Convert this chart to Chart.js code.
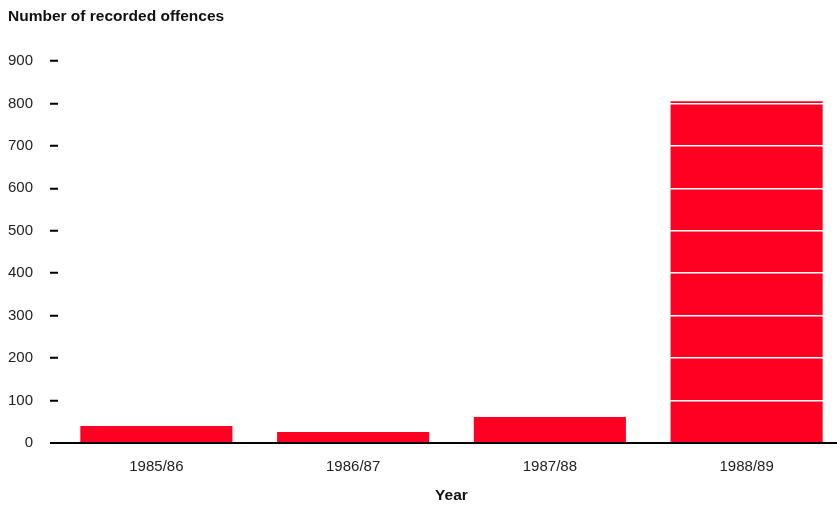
<!DOCTYPE html>
<html>
<head>
<meta charset="utf-8">
<script src="https://cdn.jsdelivr.net/npm/chart.js@4"></script>
<style>
  html, body { margin: 0; padding: 0; background: #fff; overflow: hidden; }
  #wrap { width: 845px; height: 505px; }
</style>
</head>
<body>
<div id="wrap"><canvas id="chart" width="845" height="505"></canvas></div>
<script>
// Recorded offences per financial year
const years = ['1985/86', '1986/87', '1987/88', '1988/89'];
const offences = [40, 26, 61, 805];
const yTicks = [0, 100, 200, 300, 400, 500, 600, 700, 800, 900];

const FONT = "'Liberation Sans', Arial, sans-serif";
Chart.defaults.font.family = FONT;
Chart.defaults.color = '#222';

new Chart(document.getElementById('chart'), {
  type: 'bar',
  data: {
    labels: years,
    datasets: [{
      data: offences,
      backgroundColor: '#ff0022',
      borderWidth: 0,
      categoryPercentage: 1,
      barPercentage: 0.773
    }]
  },
  options: {
    responsive: false,
    animation: false,
    layout: { padding: { left: 8, right: 0, top: 0, bottom: 0 } },
    plugins: {
      legend: { display: false },
      tooltip: { enabled: false },
      title: {
        display: true,
        text: 'Number of recorded offences',
        align: 'start',
        color: '#111',
        font: { size: 15.5, weight: 'bold' },
        padding: { top: 7.8, bottom: 34.6 }
      }
    },
    scales: {
      x: {
        afterFit: (scale) => { scale.height = 62; },
        grid: { display: false, drawTicks: false },
        border: { display: false },
        ticks: { font: { size: 15 }, padding: 14.5, color: '#222' },
        title: {
          display: true,
          text: 'Year',
          color: '#111',
          font: { size: 15.5, weight: 'bold' },
          padding: { top: 0, bottom: 0 }
        }
      },
      y: {
        min: 0,
        max: 900,
        afterBuildTicks: (scale) => { scale.ticks = yTicks.map(v => ({ value: v })); },
        afterFit: (scale) => { scale.width = 50; },
        border: { display: false },
        grid: {
          z: 1,
          color: (ctx) => ctx.tick && ctx.tick.value === 0 ? '#000' : '#fff',
          lineWidth: (ctx) => ctx.tick && ctx.tick.value === 0 ? 2 : 1.5,
          tickColor: '#000',
          tickWidth: 2,
          tickLength: 8
        },
        ticks: { font: { size: 15 }, padding: 17, color: '#222' }
      }
    }
  }
});
</script>
</body>
</html>
